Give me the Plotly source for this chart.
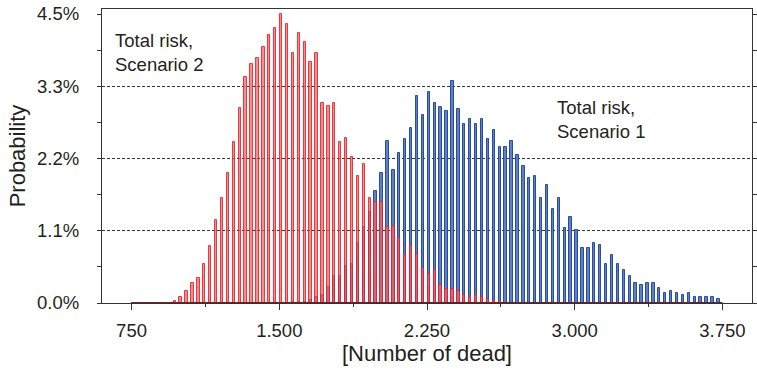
import plotly.graph_objects as go

# bin start values (Number of dead), bins of 30
bin_start = list(range(750, 3750, 30))

# Probability (%) per bin
scenario2 = [
    0, 0, 0, 0, 0, 0, 0, 0.03, 0.09, 0.19,
    0.31, 0.39, 0.61, 0.88, 1.30, 1.63, 2.03, 2.50, 3.03, 3.52,
    3.72, 3.81, 3.98, 4.18, 4.28, 4.50, 4.34, 3.89, 4.21, 4.07,
    3.75, 3.89, 3.12, 3.06, 3.12, 2.50, 2.57, 2.27, 1.97, 2.16,
    1.63, 1.57, 1.57, 1.18, 1.20, 1.01, 0.74, 0.88, 0.77, 0.55,
    0.45, 0.51, 0.28, 0.22, 0.22, 0.18, 0.13, 0.10, 0.12, 0.10,
    0.06, 0.03, 0.03, 0, 0, 0, 0, 0, 0, 0,
    0, 0, 0, 0, 0, 0, 0, 0, 0, 0,
    0, 0, 0, 0, 0, 0, 0, 0, 0, 0,
    0, 0, 0, 0, 0, 0, 0, 0, 0, 0,
]
scenario1 = [
    0, 0, 0, 0, 0, 0, 0, 0, 0, 0,
    0, 0, 0, 0, 0, 0, 0, 0, 0, 0,
    0, 0, 0, 0, 0, 0, 0, 0.02, 0.02, 0.02,
    0.05, 0.09, 0.12, 0.25, 0.42, 0.42, 0.58, 0.61, 0.94, 1.18,
    1.41, 1.74, 2.03, 2.53, 2.07, 2.33, 2.56, 2.72, 3.23, 2.93,
    3.29, 3.12, 3.05, 2.99, 3.45, 3.02, 2.79, 2.86, 2.79, 2.86,
    2.56, 2.69, 2.43, 2.43, 2.53, 2.30, 2.13, 1.94, 1.97, 1.64,
    1.83, 1.47, 1.64, 1.17, 1.34, 1.14, 0.85, 0.85, 0.94, 0.91,
    0.61, 0.74, 0.61, 0.51, 0.42, 0.31, 0.28, 0.31, 0.31, 0.24,
    0.15, 0.18, 0.15, 0.12, 0.15, 0.09, 0.09, 0.09, 0.09, 0.06,
]

y_tick_vals = [0, 1.125, 2.25, 3.375, 4.5]
y_tick_text = ["0.0%", "1.1%", "2.2%", "3.3%", "4.5%"]
y_minor_vals = [0.5625, 1.6875, 2.8125, 3.9375]
y_grid_vals = [1.125, 2.25, 3.375]
x_tick_vals = [750, 1500, 2250, 3000, 3750]
x_tick_text = ["750", "1.500", "2.250", "3.000", "3.750"]
x_minor_vals = [1125, 1875, 2625, 3375]

label_s2 = "Total risk,<br>Scenario 2"
label_s1 = "Total risk,<br>Scenario 1"

FONT = "Liberation Sans, Arial, Helvetica, sans-serif"
TXT = "#231f20"
AX = "#333333"
Y_MAX = 4.578

fig = go.Figure()
fig.add_trace(go.Bar(
    x=bin_start, y=scenario1, width=12, offset=3,
    marker=dict(color="rgba(85,120,200,0.95)", line=dict(color="#2a4c9c", width=1)),
    name="Scenario 1", showlegend=False,
))
fig.add_trace(go.Bar(
    x=bin_start, y=scenario2, width=12, offset=3,
    marker=dict(color="rgba(244,96,96,0.72)", line=dict(color="rgba(232,32,42,0.85)", width=1)),
    name="Scenario 2", showlegend=False,
))
# dark baseline under the histogram range
fig.add_trace(go.Scatter(
    x=[bin_start[0], bin_start[-1] + 30], y=[0, 0], mode="lines",
    line=dict(color="#7a1c1c", width=2), yaxis="y2", showlegend=False, hoverinfo="skip",
))

fig.add_annotation(x=655, y=3.908, xref="x", yref="y", text=label_s2, showarrow=False,
                   xanchor="left", yanchor="middle", align="left",
                   font=dict(family=FONT, size=18.5, color=TXT))
fig.add_annotation(x=2899, y=2.865, xref="x", yref="y", text=label_s1, showarrow=False,
                   xanchor="left", yanchor="middle", align="left",
                   font=dict(family=FONT, size=18.5, color=TXT))

fig.update_layout(
    width=757, height=376,
    margin=dict(l=102, r=5, t=9, b=73),
    paper_bgcolor="white", plot_bgcolor="white",
    barmode="overlay", bargap=0,
    font=dict(family=FONT, color=TXT),
    xaxis=dict(
        range=[600, 3900], tickmode="array", tickvals=x_tick_vals, ticktext=x_tick_text,
        ticks="outside", ticklen=6, tickcolor=AX, tickwidth=1,
        showline=True, linecolor=AX, linewidth=1.3, mirror=True,
        showgrid=False, zeroline=False, automargin=False, ticklabeloverflow="allow",
        minor=dict(tickvals=x_minor_vals, ticks="outside", ticklen=3, tickcolor=AX, showgrid=False),
        tickfont=dict(family=FONT, size=18.5, color=TXT), ticklabelstandoff=5,
        title=dict(text="[Number of dead]", font=dict(family=FONT, size=22, color=TXT), standoff=3),
    ),
    yaxis=dict(
        range=[0, Y_MAX], tickmode="array", tickvals=y_tick_vals, ticktext=y_tick_text,
        ticks="outside", ticklen=4, tickcolor=AX, tickwidth=1,
        showline=True, linecolor=AX, linewidth=1.3, mirror="ticks",
        showgrid=False, zeroline=False, automargin=False, ticklabeloverflow="allow",
        minor=dict(tickvals=y_minor_vals, ticks="outside", ticklen=4, tickcolor=AX, showgrid=False),
        tickfont=dict(family=FONT, size=18.5, color=TXT), ticklabelstandoff=14,
        title=dict(text="Probability", font=dict(family=FONT, size=22, color=TXT), standoff=5),
    ),
    yaxis2=dict(
        overlaying="y", side="left", range=[0, Y_MAX], automargin=False,
        tickmode="array", tickvals=y_grid_vals, showticklabels=False, ticks="",
        showgrid=True, griddash="3px,2px", gridcolor="#333333", gridwidth=1,
        showline=False, zeroline=False,
    ),
)

# remove the browser's default 8px body margin so the figure fills the window
fig.write_html("out.html", config={"displayModeBar": False},
               post_script="document.body.style.margin='0';")
